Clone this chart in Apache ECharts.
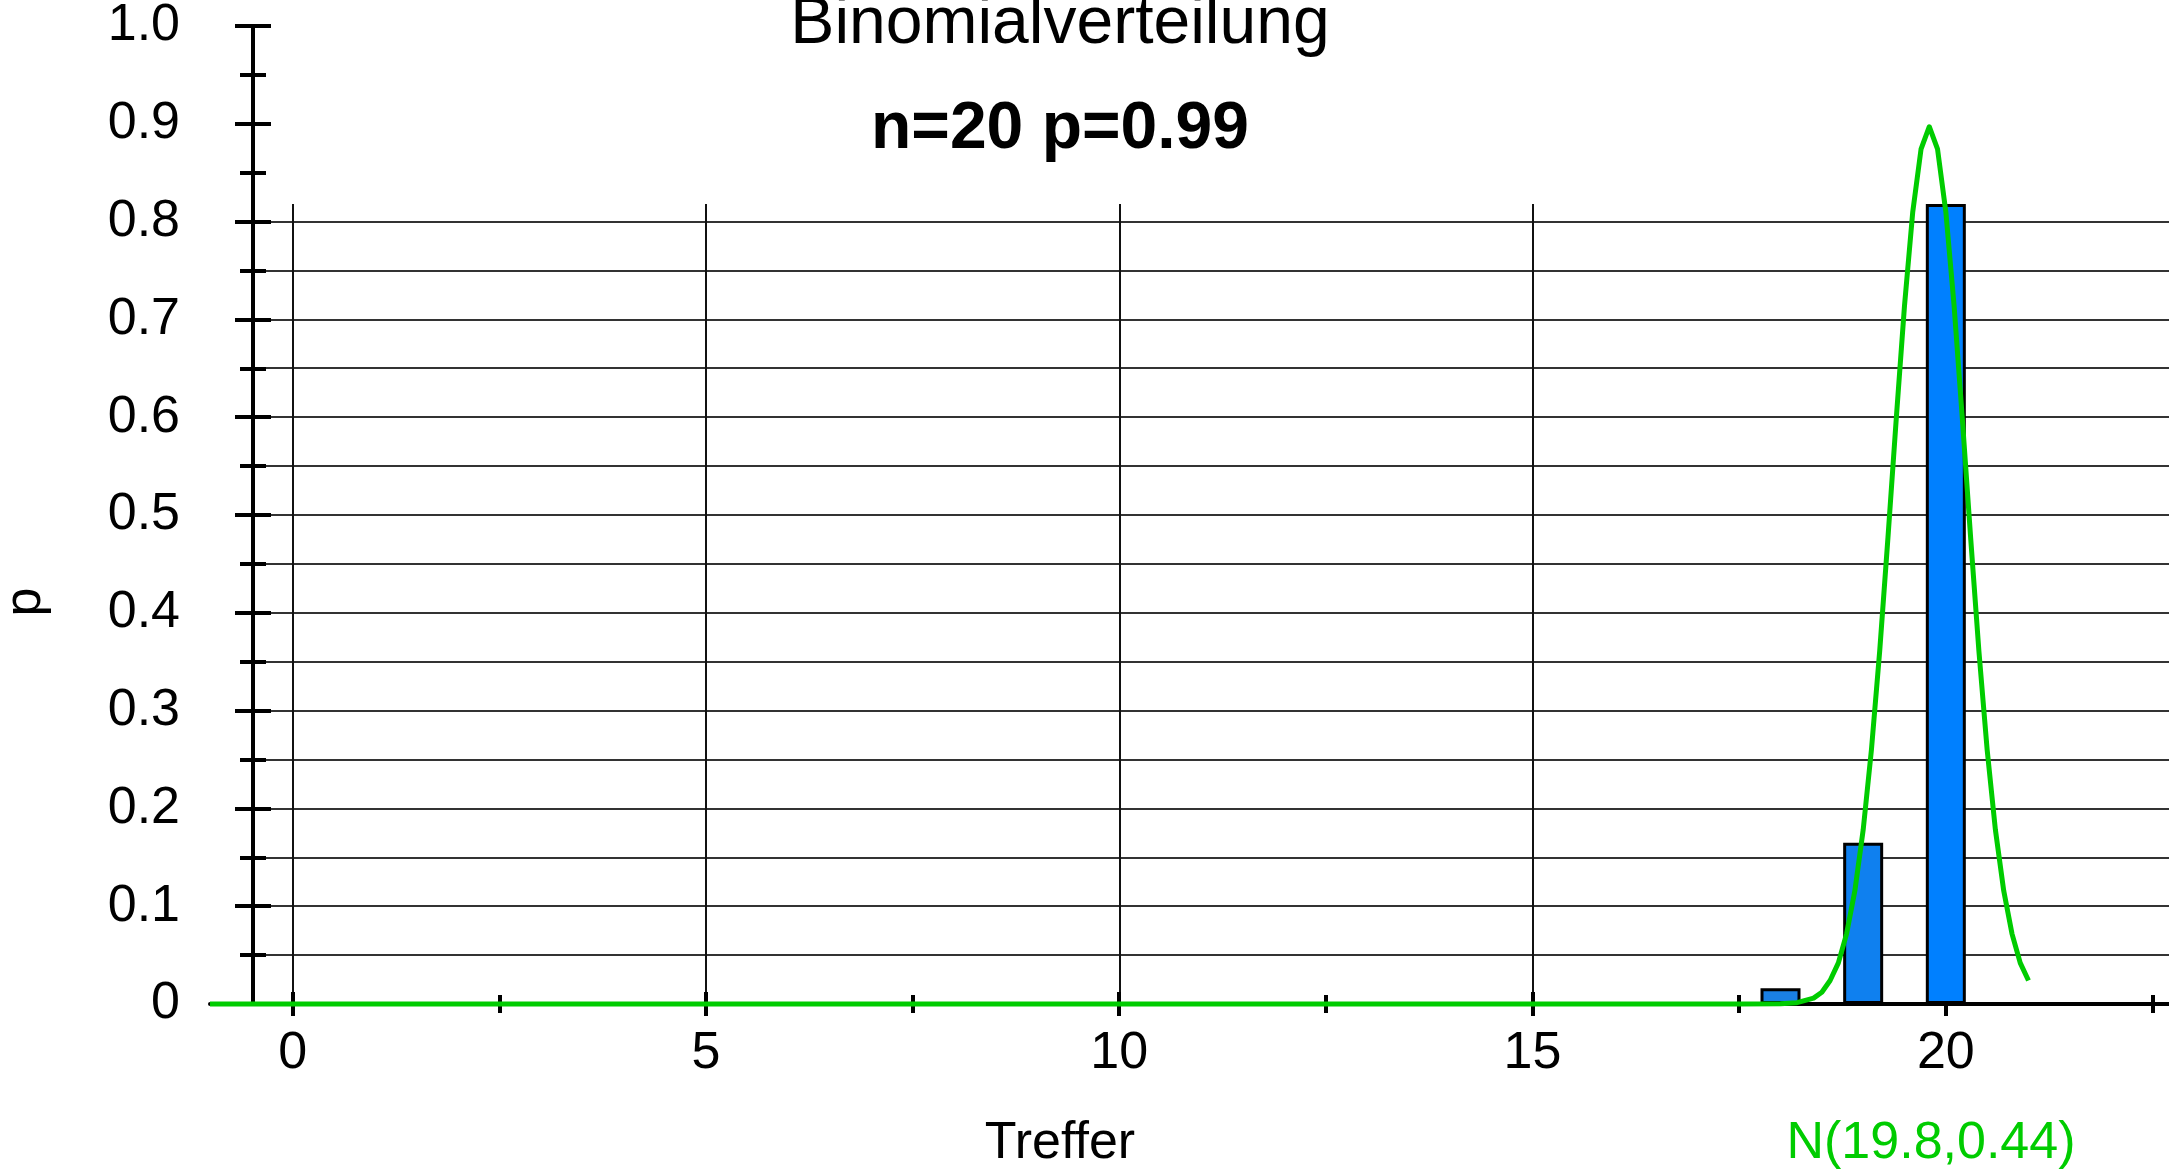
<!DOCTYPE html>
<html>
<head>
<meta charset="utf-8">
<script src="https://cdn.jsdelivr.net/npm/echarts@6/dist/echarts.min.js"></script>
<style>
  html, body { margin: 0; padding: 0; background: #fff; }
  #chart-container { width: 2169px; height: 1176px; }
</style>
</head>
<body>
<div id="chart-container"></div>
<script>
// tick labels
var xTickValues = [0, 5, 10, 15, 20];
var yTickLabels = ["0", "0.1", "0.2", "0.3", "0.4", "0.5", "0.6", "0.7", "0.8", "0.9", "1.0"];

// binomial bars n=20 p=0.99 (only the visible ones)
var barX = [18, 19, 20];
var barP = [0.016, 0.165, 0.818];
var barColors = ["#1a80e4", "#0f80ef", "#0080ff"];

// green curve N(19.8,0.44)
var normX = [-1, 17.5, 18.0, 18.2, 18.4, 18.5, 18.6, 18.7, 18.8, 18.9, 19.0, 19.1, 19.2, 19.3, 19.4, 19.5, 19.6, 19.7, 19.8,
  19.9, 20.0, 20.1, 20.2, 20.3, 20.4, 20.5, 20.6, 20.7, 20.8, 20.9, 21.0];
var normY = [0, 0, 0.0003, 0.0014, 0.006, 0.012, 0.024, 0.042, 0.072, 0.116, 0.178, 0.26, 0.361, 0.477, 0.598, 0.714, 0.81, 0.874, 0.897,
  0.874, 0.81, 0.714, 0.598, 0.477, 0.361, 0.26, 0.178, 0.116, 0.072, 0.042, 0.024];

var font = '"Liberation Sans", Arial, sans-serif';

var dom = document.getElementById("chart-container");
var myChart = echarts.init(dom, null, { renderer: "canvas" });

var hidden = { show: false };
var tickStyle = { color: "#000", width: 4 };
var gridStyle = { color: "#333", width: 2 };

var option = {
  animation: false,
  backgroundColor: "#fff",
  grid: [
    // main plot
    { left: 210, right: 0, top: 26, bottom: 172 },
    // grid lines area
    { left: 253, right: 0, top: 204, bottom: 172 },
    // inner half of the crossing ticks
    { left: 210, right: 0, top: 26, bottom: 172 },
  ],
  xAxis: [
    {
      type: "value", gridIndex: 0, min: -1, max: 22.7, splitNumber: 5,
      axisLine: { onZero: false, lineStyle: { color: "#000", width: 4 } },
      axisTick: { customValues: xTickValues, length: 12, lineStyle: tickStyle },
      minorTick: { show: true, splitNumber: 2, length: 9, lineStyle: tickStyle },
      axisLabel: { customValues: xTickValues, margin: 24, color: "#000", fontSize: 52, fontFamily: font },
      splitLine: hidden,
    },
    {
      type: "value", gridIndex: 1, min: -0.48, max: 22.7, splitNumber: 5,
      axisLine: hidden, axisTick: hidden, axisLabel: hidden,
      splitLine: { show: true, showMinLine: false, showMaxLine: false, lineStyle: { color: "#111", width: 2 } },
    },
    {
      type: "value", gridIndex: 2, min: -1, max: 22.7, splitNumber: 5,
      axisLine: { show: false, onZero: false },
      axisTick: { inside: true, customValues: xTickValues, length: 12, lineStyle: tickStyle },
      minorTick: { show: true, splitNumber: 2, length: 9, lineStyle: tickStyle },
      axisLabel: hidden,
      splitLine: hidden,
    },
  ],
  yAxis: [
    {
      type: "value", gridIndex: 0, min: 0, max: 1, interval: 0.1, offset: -43,
      axisLine: { show: true, onZero: false, lineStyle: { color: "#000", width: 4 } },
      axisTick: { length: 18, lineStyle: tickStyle },
      minorTick: { show: true, splitNumber: 2, length: 13, lineStyle: tickStyle },
      axisLabel: {
        margin: 73, color: "#000", fontSize: 52, fontFamily: font,
        formatter: function (v) { return yTickLabels[Math.round(v * 10)]; },
      },
      splitLine: hidden,
    },
    {
      type: "value", gridIndex: 1, min: 0, max: 0.8179, interval: 0.05,
      axisLine: hidden, axisTick: hidden, axisLabel: hidden,
      splitLine: { show: true, showMinLine: false, showMaxLine: false, lineStyle: gridStyle },
    },
    {
      type: "value", gridIndex: 2, min: 0, max: 1, interval: 0.1, offset: -43,
      axisLine: { show: false, onZero: false },
      axisTick: { inside: true, length: 18, lineStyle: tickStyle },
      minorTick: { show: true, splitNumber: 2, length: 13, lineStyle: tickStyle },
      axisLabel: hidden,
      splitLine: hidden,
    },
  ],
  series: [
    {
      type: "bar",
      xAxisIndex: 0, yAxisIndex: 0,
      barWidth: 40,
      itemStyle: { borderColor: "#000", borderWidth: 3 },
      data: barX.map(function (x, i) {
        return { value: [x, barP[i]], itemStyle: { color: barColors[i] } };
      }),
      z: 3,
    },
    {
      type: "line",
      xAxisIndex: 0, yAxisIndex: 0,
      showSymbol: false, symbol: "none",
      smooth: false,
      clip: false,
      lineStyle: { color: "#00cc00", width: 5, join: "round" },
      data: normX.map(function (x, i) { return [x, normY[i]]; }),
      z: 5,
    },
  ],
  graphic: [
    { type: "text", x: 1060, y: 25, style: { text: "Binomialverteilung", font: "normal 66px " + font, fill: "#000", textAlign: "center", textVerticalAlign: "middle" } },
    { type: "text", x: 1060, y: 130, style: { text: "n=20 p=0.99", font: "bold 66px " + font, fill: "#000", textAlign: "center", textVerticalAlign: "middle" } },
    { type: "text", x: 1060, y: 1144, style: { text: "Treffer", font: "normal 52px " + font, fill: "#000", textAlign: "center", textVerticalAlign: "middle" } },
    { type: "text", x: 1931, y: 1144, style: { text: "N(19.8,0.44)", font: "normal 52px " + font, fill: "#00cc00", textAlign: "center", textVerticalAlign: "middle" } },
    { type: "text", x: 26, y: 602, rotation: Math.PI / 2, style: { text: "p", font: "normal 52px " + font, fill: "#000", textAlign: "center", textVerticalAlign: "middle" } },
  ],
};

myChart.setOption(option);
window.addEventListener("resize", myChart.resize);
</script>
</body>
</html>
